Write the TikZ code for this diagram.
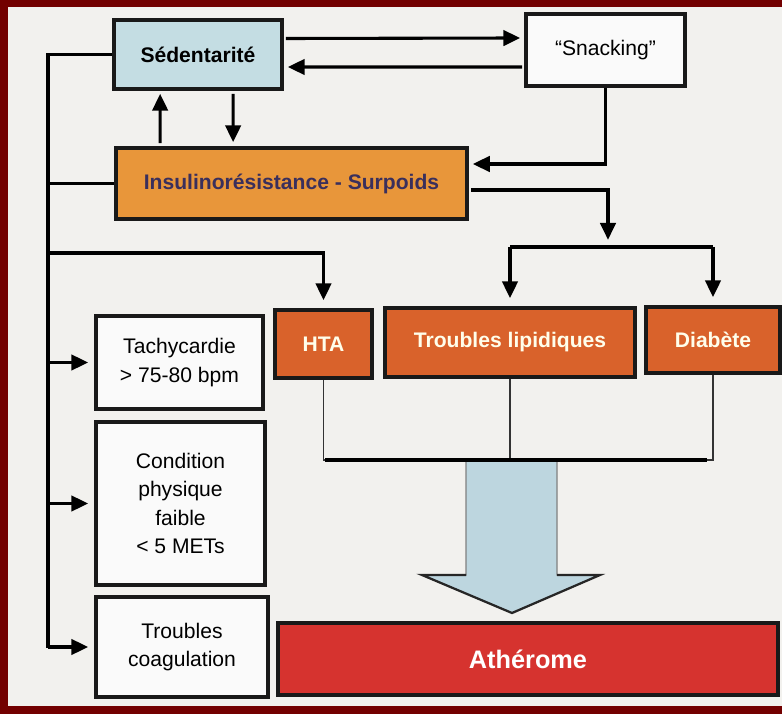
\documentclass[tikz,border=0pt]{standalone}
\usepackage{fontspec}
\setmainfont{Liberation Sans}
\usetikzlibrary{arrows.meta,calc}
\definecolor{frameRed}{HTML}{730000}
\definecolor{paperGray}{HTML}{F2F1EE}
\definecolor{sedBlue}{HTML}{C4DDE3}
\definecolor{insOrange}{HTML}{E8963A}
\definecolor{riskOrange}{HTML}{D9622B}
\definecolor{athRed}{HTML}{D6332F}
\definecolor{flowBlue}{HTML}{BDD6DF}
\definecolor{insText}{HTML}{3A2F5C}
\begin{document}
\begin{tikzpicture}
[x=0.025cm,y=-0.025cm,
  boxDecorate/.style={shape=rectangle,draw=black!90,line width=2.6pt,inner sep=2pt,align=center,
    font=\fontsize{15}{17}\selectfont},
  whiteBox/.style={boxDecorate,fill=white!96!gray},
  riskBox/.style={boxDecorate,fill=riskOrange,text=white!92!yellow,font=\fontsize{15}{17}\selectfont\bfseries},
  lineDecorate/.style={-,line width=2.2pt},
  thinDecorate/.style={-,line width=1pt,draw=black!80},
  arrowDecorate/.style={-{Triangle[length=12pt,width=11pt]},line width=2.2pt}]
%% frame
\fill[frameRed] (0,0) rectangle (782,714);
\fill[paperGray] (8,7) rectangle (782,706);
\useasboundingbox (0,0) rectangle (782,714);
%% top boxes
\node (sedentarite) at (198,54.5) [boxDecorate,fill=sedBlue,font=\fontsize{15}{17}\selectfont\bfseries,
  minimum width=4.2cm,minimum height=1.725cm] {Sédentarité};
\node (snacking) at (605.5,50) [whiteBox,minimum width=3.975cm,minimum height=1.8cm] {“Snacking”};
\node (insulino) at (291.5,183.5) [boxDecorate,fill=insOrange,text=insText,
  font=\fontsize{15}{17}\selectfont\bfseries,minimum width=8.775cm,minimum height=1.775cm]
  {Insulinorésistance - Surpoids};
%% risk factors
\foreach \nodename/\x/\y/\w/\h/\txt in {
  hta/323.5/344/2.425/1.7/HTA, lipides/510/342.5/6.25/1.725/Troubles lipidiques,
  diabete/713/340/3.35/1.65/Diabète}
{
  \node (\nodename) at (\x,\y) [riskBox,minimum width=\w cm,minimum height=\h cm] {\txt};
}
%% left boxes
\foreach \nodename/\x/\y/\w/\h/\txt in {
  tachy/179.5/362.5/4.175/2.325/{Tachycardie\\> 75-80 bpm},
  condition/180.5/503.5/4.225/4.075/{Condition\\physique\\faible\\< 5 METs},
  coagulation/182/647/4.3/2.5/{Troubles\\coagulation}}
{
  \node (\nodename) at (\x,\y) [whiteBox,minimum width=\w cm,minimum height=\h cm,
    font=\fontsize{15}{20}\selectfont] {\txt};
}
\node (atherome) at (528,659) [boxDecorate,fill=athRed,text=white,font=\fontsize{18}{20}\selectfont\bfseries,
  minimum width=12.5cm,minimum height=1.8cm] {Athérome};
%% junction points
\coordinate (bus) at (48,58);
\coordinate (busEnd) at (48,648);
\coordinate (htaBranch) at (48,253);
\coordinate (split) at (608,247);
\coordinate (merge) at (510,460);
%% big arrow
\draw[draw=gray,fill=flowBlue,line width=0.8pt]
  (466,461) -- (557,461) -- (557,575) -- (600,575) -- (512,613) -- (422,575) -- (466,575) -- cycle;
\draw[line width=1.6pt,black!85] (557,575) -- (600,575) -- (512,613) -- (422,575) -- (466,575);
%% edges or lines
\draw[arrowDecorate] ($(sedentarite.east)+(2,-16)$) -- ($(snacking.west)+(-4,-12)$);
\draw[arrowDecorate] ($(snacking.west)+(-2,17)$) -- ($(sedentarite.east)+(4,12.5)$);
\draw[arrowDecorate] ($(insulino.north west)+(46,-3)$) -- ($(sedentarite.south west)+(48,3)$);
\draw[arrowDecorate] ($(sedentarite.south west)+(121,3)$) -- ($(insulino.north west)+(119,-4)$);
\draw[arrowDecorate] (snacking.south) |- ($(insulino.east)+(4,-19.5)$);
\draw[arrowDecorate,shorten >=0.18cm] ($(insulino.east)+(2,6.5)$) -| (split);
\draw[lineDecorate] (lipides.north |- split) -- (diabete.north |- split);
\foreach \target in {lipides, diabete}
{
  \draw[arrowDecorate,shorten >=0.2cm] (\target.north |- split) -- (\target.north);
}
\draw[arrowDecorate,shorten >=0.2cm] (htaBranch) -| (hta.north);
\draw[lineDecorate] (sedentarite.west) -- (sedentarite.west -| bus) -- (busEnd);
\draw[lineDecorate] (insulino.west) -- (insulino.west -| bus);
\foreach \target in {tachy, condition, coagulation}
{
  \draw[arrowDecorate,shorten >=0.15cm] (bus |- \target.west) -- (\target.west);
}
\draw[thinDecorate] (hta.south) |- (merge);
\draw[thinDecorate] (diabete.south) |- (merge);
\draw[thinDecorate] (lipides.south) -- (merge);
\draw[lineDecorate] ($(merge)+(-185,0)$) -- ($(merge)+(197,0)$);
\end{tikzpicture}
\end{document}
